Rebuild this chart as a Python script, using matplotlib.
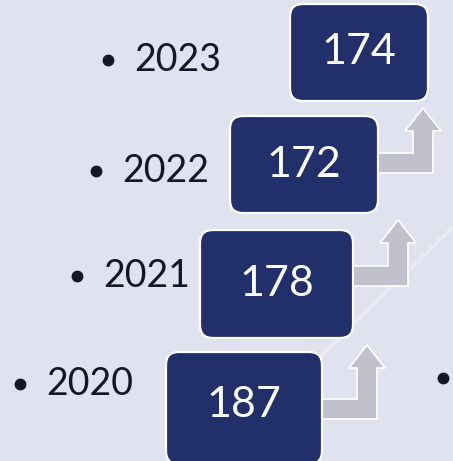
import matplotlib.pyplot as plt
from matplotlib.patches import FancyBboxPatch, Polygon

# data
years = ['2020', '2021', '2022', '2023']
values = [187, 178, 172, 174]

# layout (pixel coords, y down) - boxes step up and right
box_left = [166, 200, 230, 290]
box_top = [352, 230, 116, 4]
box_w = [156, 153, 148, 138]
box_h = [112, 108, 97, 97]
label_x = [20, 77, 96, 108]
label_y = [384, 276, 171, 60]

bg = '#e0e2ef'
navy = '#212f6b'
grey = '#c0c1cc'

fig = plt.figure(figsize=(4.53, 4.61), dpi=100)
fig.patch.set_facecolor(bg)
ax = fig.add_axes([0, 0, 1, 1])
ax.set_xlim(0, 453)
ax.set_ylim(461, 0)
ax.axis('off')

# faint diagonal line in the background
ax.plot([320, 453], [357, 227], color='#e9eaf4', lw=3, zorder=0)

for i in range(len(years)):
    x0, y0, w, h = box_left[i], box_top[i], box_w[i], box_h[i]
    box = FancyBboxPatch((x0, y0), w, h, boxstyle='round,pad=0,rounding_size=13',
                         fc=navy, ec='white', lw=1.6, zorder=3)
    ax.add_patch(box)
    ax.text(x0 + w / 2, y0 + h / 2 + (0 if i else -3), str(values[i]),
            color='white', fontsize=31, family='Lato',
            ha='center', va='center', zorder=4)

    # bullet + year
    ax.plot(label_x[i], label_y[i], 'o', color='#141824', ms=7.5, zorder=4)
    ax.text(label_x[i] + 26, label_y[i], years[i], color='#141824',
            fontsize=27, family='Lato', ha='left', va='center', zorder=4)

    # bent-up arrow to the next box
    if i < len(years) - 1:
        right = x0 + w
        bottom = y0 + 67 if i == 0 else y0 + (56 if i == 1 else 57)
        xr = right + 55
        sw = 20
        head_base = box_top[i + 1] + box_h[i + 1] + 30
        tip = box_top[i + 1] + box_h[i + 1] + 7
        xc = xr - sw / 2
        pts = [(right, bottom), (xr, bottom), (xr, head_base),
               (xc + 18, head_base), (xc, tip), (xc - 18, head_base),
               (xr - sw, head_base), (xr - sw, bottom - sw), (right, bottom - sw)]
        ax.add_patch(Polygon(pts, closed=True, fc=grey, ec='white', lw=1.2, zorder=2))

# stray bullet on the right
ax.plot(443, 378, 'o', color='#141824', ms=7.5, zorder=4)

fig.savefig('out.png', dpi=100, facecolor=bg)
